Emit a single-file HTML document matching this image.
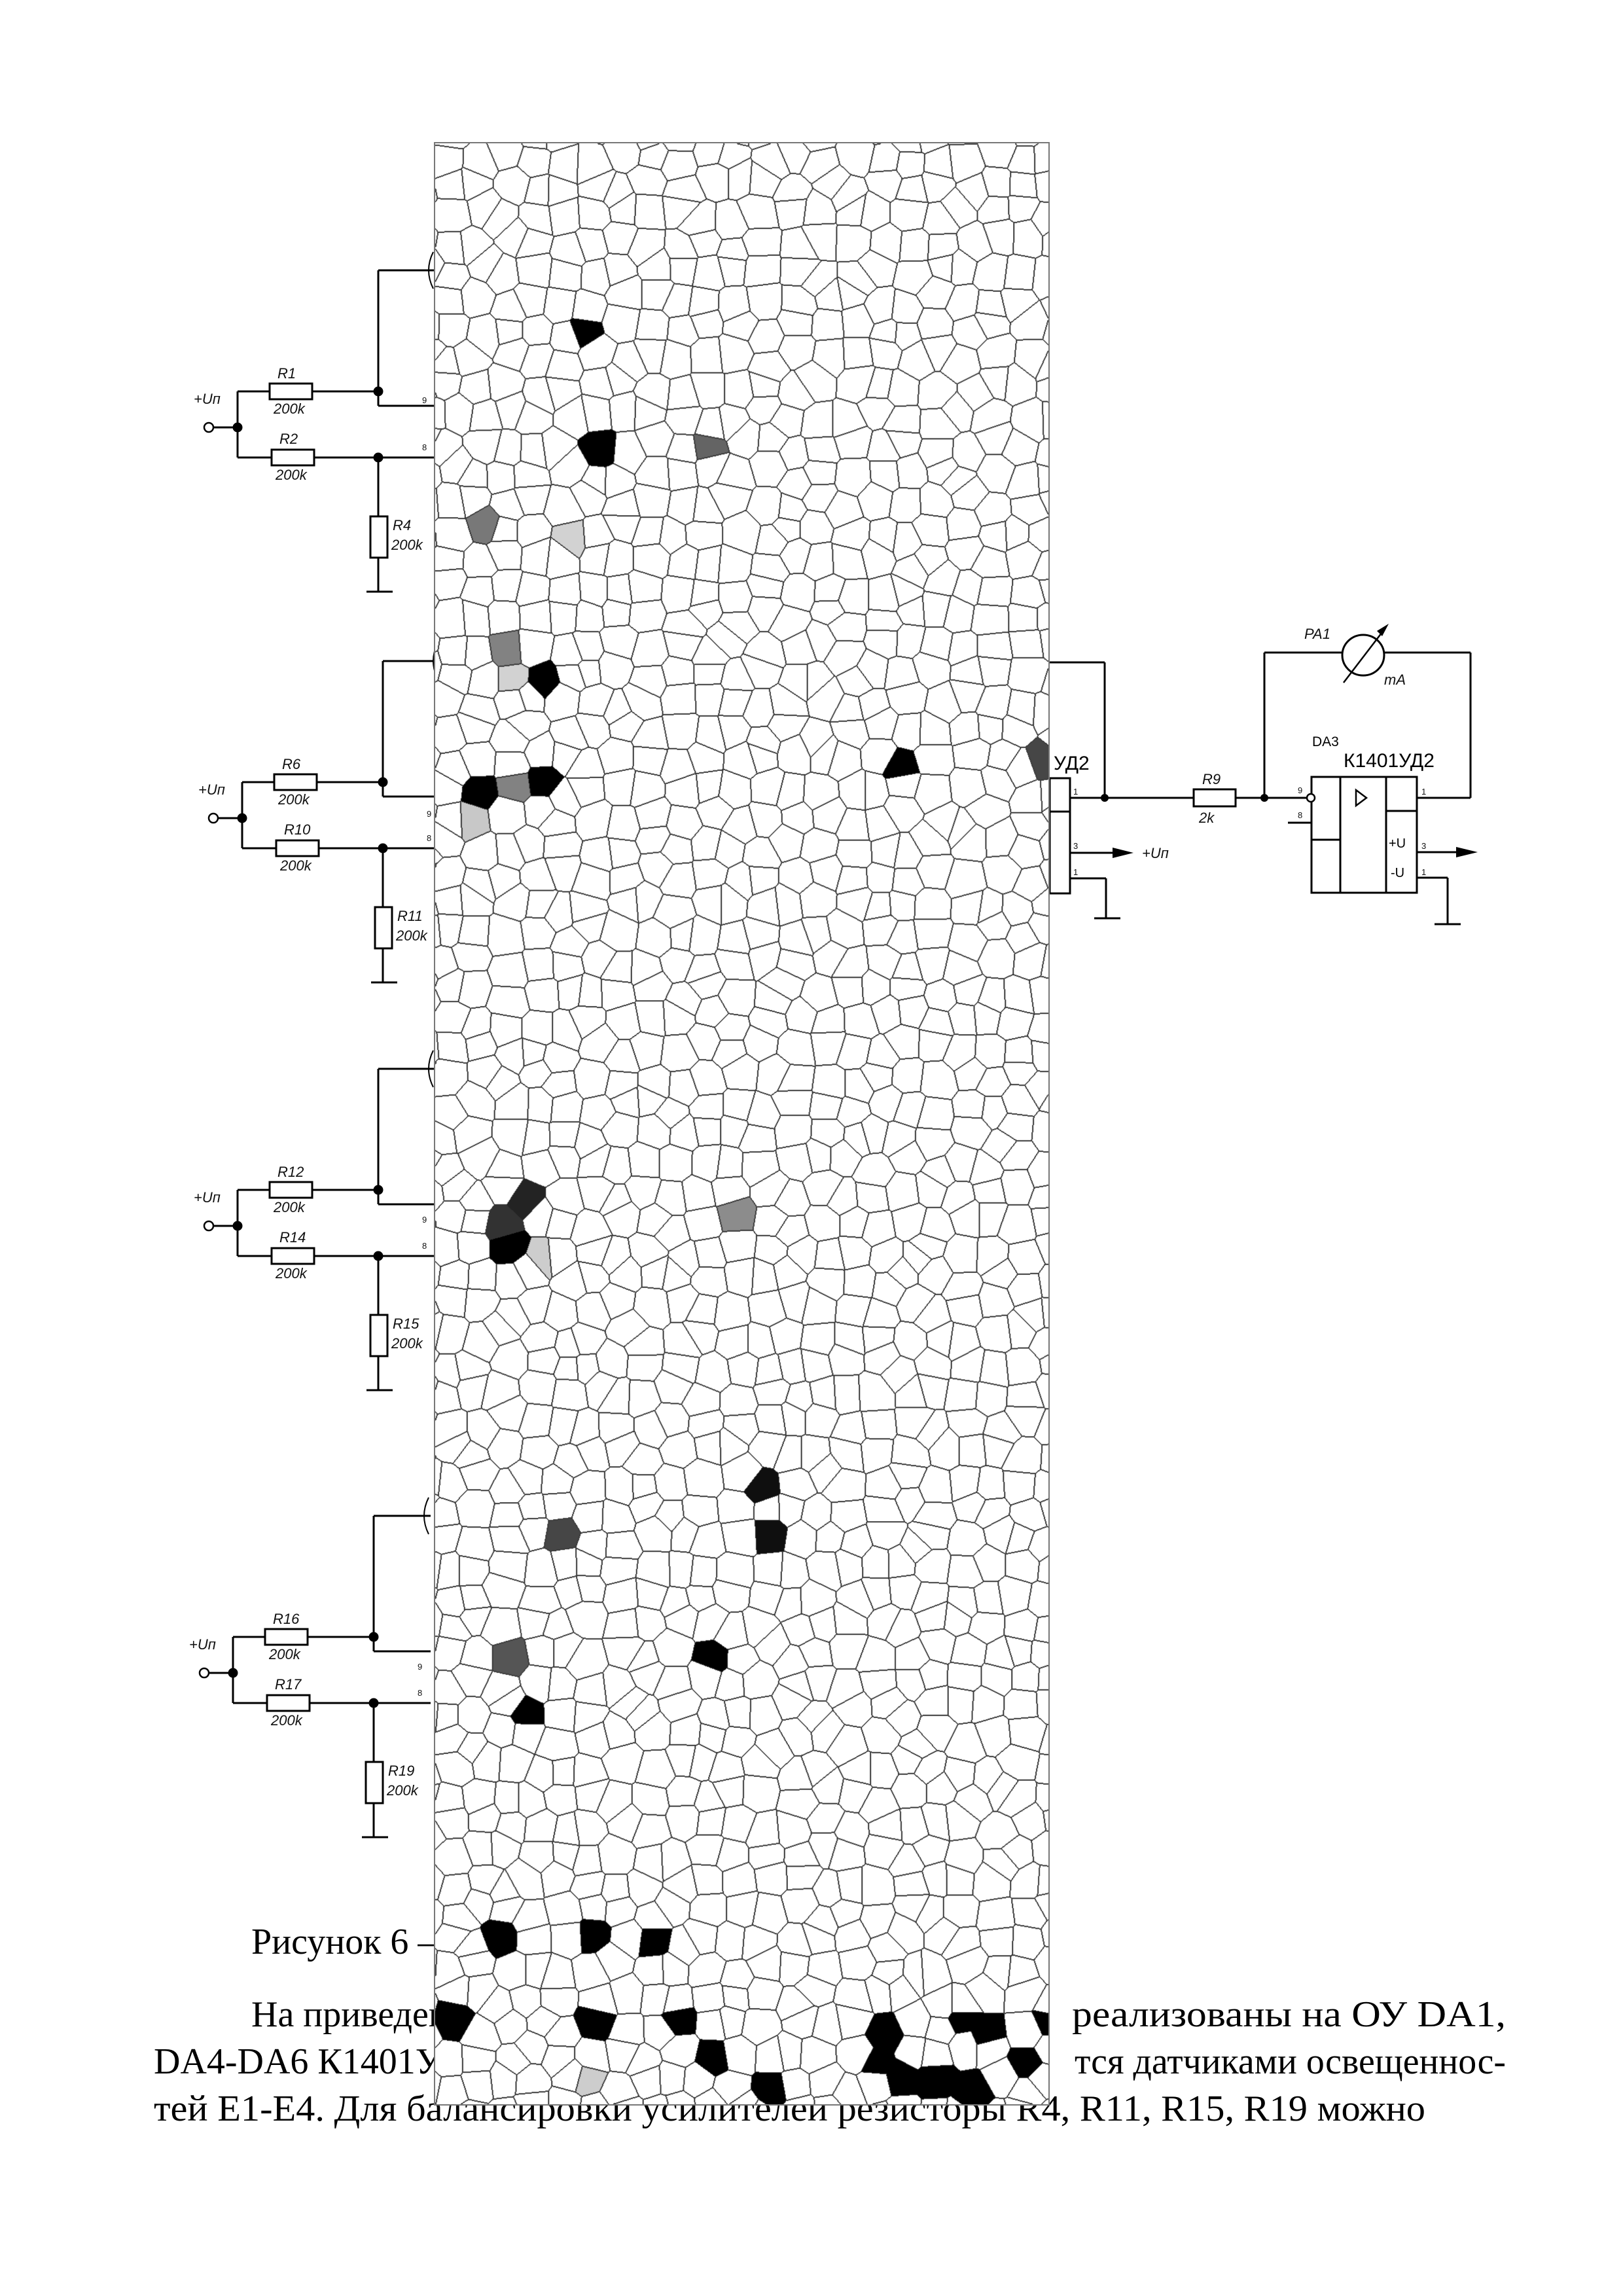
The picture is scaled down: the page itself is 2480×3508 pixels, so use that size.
<!DOCTYPE html>
<html><head><meta charset="utf-8"><style>
html,body{margin:0;padding:0;background:#fff}
#wrap{position:relative;width:2480px;height:3508px;overflow:hidden;background:#fff}
svg{position:absolute;left:0;top:0}
#vor{position:absolute;left:663px;top:217px;width:941px;height:3000px;background:#fff;box-sizing:border-box;border:2px solid #777;z-index:2}
.l{font-family:"Liberation Sans",sans-serif;font-style:italic;font-size:22px;fill:#111}
.p{font-family:"Liberation Sans",sans-serif;font-size:13px;fill:#111}
.t{font-family:"Liberation Serif","Noto Serif CJK SC",serif;font-size:56px;fill:#000}
</style></head><body><div id="wrap">
<svg width="2480" height="3508" viewBox="0 0 2480 3508">
<defs>
<g id="sec" stroke="#000" stroke-width="3" fill="none">
  <circle cx="319" cy="653" r="7" stroke-width="2.5"/>
  <line x1="326" y1="653" x2="363" y2="653"/>
  <line x1="363" y1="598" x2="363" y2="699"/>
  <line x1="363" y1="598" x2="412" y2="598"/>
  <rect x="412" y="586" width="65" height="24" fill="#fff"/>
  <line x1="477" y1="598" x2="578" y2="598"/>
  <line x1="363" y1="699" x2="415" y2="699"/>
  <rect x="415" y="687" width="65" height="24" fill="#fff"/>
  <line x1="480" y1="699" x2="665" y2="699"/>
  <line x1="578" y1="413" x2="578" y2="620"/>
  <line x1="578" y1="413" x2="665" y2="413"/>
  <line x1="578" y1="620" x2="665" y2="620"/>
  <path d="M662 385 Q648 413 662 441" stroke-width="2"/>
  <line x1="578" y1="699" x2="578" y2="789"/>
  <rect x="566" y="789" width="26" height="63" fill="#fff"/>
  <line x1="578" y1="852" x2="578" y2="904"/>
  <line x1="560" y1="904" x2="600" y2="904"/>
  <circle cx="363" cy="653" r="6" fill="#000"/>
  <circle cx="578" cy="598" r="6" fill="#000"/>
  <circle cx="578" cy="699" r="6" fill="#000"/>
</g>
</defs>
<use href="#sec"/>
<text class="l" x="296" y="617">+Uп</text>
<text class="l" x="424" y="578">R1</text><text class="l" x="418" y="632">200k</text>
<text class="l" x="427" y="678">R2</text><text class="l" x="421" y="733">200k</text>
<text class="l" x="600" y="810">R4</text><text class="l" x="598" y="840">200k</text>
<text class="p" x="645" y="616">9</text><text class="p" x="645" y="688">8</text>

<use href="#sec" transform="translate(7,597)"/>
<text class="l" x="303" y="1214">+Uп</text>
<text class="l" x="431" y="1175">R6</text><text class="l" x="425" y="1229">200k</text>
<text class="l" x="434" y="1275">R10</text><text class="l" x="428" y="1330">200k</text>
<text class="l" x="607" y="1407">R11</text><text class="l" x="605" y="1437">200k</text>
<text class="p" x="652" y="1248">9</text><text class="p" x="652" y="1285">8</text>

<use href="#sec" transform="translate(0,1220)"/>
<text class="l" x="296" y="1837">+Uп</text>
<text class="l" x="424" y="1798">R12</text><text class="l" x="418" y="1852">200k</text>
<text class="l" x="427" y="1898">R14</text><text class="l" x="421" y="1953">200k</text>
<text class="l" x="600" y="2030">R15</text><text class="l" x="598" y="2060">200k</text>
<text class="p" x="645" y="1868">9</text><text class="p" x="645" y="1908">8</text>

<use href="#sec" transform="translate(-7,1903)"/>
<text class="l" x="289" y="2520">+Uп</text>
<text class="l" x="417" y="2481">R16</text><text class="l" x="411" y="2535">200k</text>
<text class="l" x="420" y="2581">R17</text><text class="l" x="414" y="2636">200k</text>
<text class="l" x="593" y="2713">R19</text><text class="l" x="591" y="2743">200k</text>
<text class="p" x="638" y="2551">9</text><text class="p" x="638" y="2591">8</text>

<g stroke="#000" stroke-width="3" fill="none">
  <rect x="1604" y="1189" width="31" height="176" fill="#fff"/>
  <line x1="1604" y1="1240" x2="1635" y2="1240"/>
  <line x1="1604" y1="1012" x2="1688" y2="1012"/>
  <line x1="1688" y1="1012" x2="1688" y2="1219"/>
  <line x1="1635" y1="1219" x2="1824" y2="1219"/>
  <rect x="1824" y="1206" width="64" height="26" fill="#fff"/>
  <line x1="1888" y1="1219" x2="1997" y2="1219"/>
  <line x1="1635" y1="1303" x2="1705" y2="1303"/>
  <line x1="1635" y1="1342" x2="1690" y2="1342"/>
  <line x1="1690" y1="1342" x2="1690" y2="1403"/>
  <line x1="1672" y1="1403" x2="1712" y2="1403"/>
  <line x1="1932" y1="997" x2="1932" y2="1219"/>
  <line x1="1932" y1="997" x2="2051" y2="997"/>
  <ellipse cx="2083" cy="1001" rx="32" ry="31"/>
  <line x1="2115" y1="997" x2="2247" y2="997"/>
  <line x1="2247" y1="997" x2="2247" y2="1219"/>
  <line x1="2165" y1="1219" x2="2247" y2="1219"/>
  <line x1="2053" y1="1043" x2="2115" y2="962" stroke-width="2.5"/>
  <rect x="2004" y="1187" width="161" height="177" fill="#fff"/>
  <line x1="2048" y1="1187" x2="2048" y2="1364"/>
  <line x1="2118" y1="1187" x2="2118" y2="1364"/>
  <line x1="2004" y1="1283" x2="2048" y2="1283"/>
  <line x1="2118" y1="1239" x2="2165" y2="1239"/>
  <circle cx="2003" cy="1219" r="6" fill="#fff" stroke-width="2.5"/>
  <line x1="1968" y1="1257" x2="2004" y2="1257"/>
  <line x1="2165" y1="1302" x2="2230" y2="1302"/>
  <line x1="2165" y1="1341" x2="2212" y2="1341"/>
  <line x1="2212" y1="1341" x2="2212" y2="1412"/>
  <line x1="2192" y1="1412" x2="2232" y2="1412"/>
  <path d="M2072 1207 L2088 1219 L2072 1231 Z" stroke-width="2.5"/>
</g>
<path d="M2122 953 L2112 972 L2104 964 Z" fill="#000"/>
<path d="M1700 1295 L1732 1303 L1700 1311 Z" fill="#000"/>
<path d="M2225 1294 L2258 1302 L2225 1310 Z" fill="#000"/>
<circle cx="1688" cy="1219" r="6" fill="#000"/>
<circle cx="1932" cy="1219" r="6" fill="#000"/>
<text class="l" x="1745" y="1311">+Uп</text>
<text class="l" x="1837" y="1198">R9</text><text class="l" x="1832" y="1257">2k</text>
<text class="l" x="1993" y="976" font-size="24">PA1</text>
<text class="l" x="2115" y="1046">mA</text>
<text style="font-family:'Liberation Sans',sans-serif;font-size:21px" x="2005" y="1140">DA3</text>
<text style="font-family:'Liberation Sans','Noto Sans CJK SC',sans-serif;font-size:30px" x="2053" y="1172">К1401УД2</text>
<text style="font-family:'Liberation Sans','Noto Sans CJK SC',sans-serif;font-size:30px" x="1610" y="1176">УД2</text>
<text class="p" x="1640" y="1214">1</text><text class="p" x="1640" y="1297">3</text><text class="p" x="1640" y="1337">1</text>
<text class="p" x="1983" y="1212">9</text><text class="p" x="1983" y="1250">8</text>
<text class="p" x="2172" y="1214">1</text><text class="p" x="2172" y="1297">3</text><text class="p" x="2172" y="1337">1</text>
<text style="font-family:'Liberation Sans',sans-serif;font-size:20px" x="2122" y="1295">+U</text>
<text style="font-family:'Liberation Sans',sans-serif;font-size:20px" x="2125" y="1340">-U</text>

<text class="t" x="384" y="2985">Рисунок 6 – схема</text>
<text class="t" x="384" y="3096">На приведенной схеме</text>
<text class="t" x="1638" y="3096" textLength="663" lengthAdjust="spacingAndGlyphs">реализованы на ОУ DA1,</text>
<text class="t" x="235" y="3168">DA4-DA6 К1401УД2 являются</text>
<text class="t" x="1642" y="3168" textLength="659" lengthAdjust="spacingAndGlyphs">тся датчиками освещеннос-</text>
<text class="t" x="235" y="3240" textLength="1943" lengthAdjust="spacingAndGlyphs">тей Е1-Е4. Для балансировки усилителей резисторы R4, R11, R15, R19 можно</text>
</svg>
<canvas id="vor" width="941" height="3000"></canvas>
</div>
<script>
(function(){
var c=document.getElementById('vor'),ctx=c.getContext('2d');
var W=941,H=3000,S=44;
var s=12345;function rnd(){s=(s*1664525+1013904223)>>>0;return s/4294967296;}
var cols=Math.ceil(W/S)+2,rows=Math.ceil(H/S)+2;
var sx=new Float32Array(cols*rows),sy=new Float32Array(cols*rows);
for(var j=0;j<rows;j++)for(var i=0;i<cols;i++){var k=j*cols+i;sx[k]=(i-1)*S+S*(0.15+0.7*rnd());sy[k]=(j-1)*S+S*(0.15+0.7*rnd());}
function near(x,y){var gi=Math.floor(x/S)+1,gj=Math.floor(y/S)+1,b=-1,bd=1e18;
for(var dj=-1;dj<=1;dj++){var jj=gj+dj;if(jj<0||jj>=rows)continue;
for(var di=-1;di<=1;di++){var ii=gi+di;if(ii<0||ii>=cols)continue;var k=jj*cols+ii;var dx=sx[k]-x,dy=sy[k]-y,d=dx*dx+dy*dy;if(d<bd){bd=d;b=k;}}}return b;}
var lab=new Int32Array(W*H);
for(var y=0;y<H;y++)for(var x=0;x<W;x++)lab[y*W+x]=near(x+0.5,y+0.5);
var spec={};
var pts=[[397,237,0],[405,297,0],[490,300,100],[325,360,120],[396,357,210],[342,440,130],[352,455,210],[370,460,0],[330,533,0],[350,533,130],[322,550,200],[370,538,0],[618,515,0],[708,515,70],[338,828,50],[352,828,35],[350,848,0],[370,848,205],[493,828,140],[530,1010,15],[530,1045,15],[388,1043,70],[348,1125,85],[492,1142,0],[358,1178,0],[348,1325,0],[407,1320,0],[453,1325,0],[312,1382,0],[400,1382,0],[460,1385,0],[490,1415,0],[405,1420,205],[530,1440,0],[607,1382,0],[655,1380,0],[685,1382,0],[600,1415,0],[620,1418,0],[645,1418,0],[670,1418,0],[700,1415,0],[712,1380,0]];
for(var p=0;p<pts.length;p++){var X=pts[p][0]*2.234-663,Y=pts[p][1]*2.234-217;if(X<0)X=2;if(X>=W)X=W-2;if(Y>=H)Y=H-2;spec[near(X,Y)]=pts[p][2];}
var img=ctx.createImageData(W,H),d=img.data;
for(var y=0;y<H;y++)for(var x=0;x<W;x++){var i=y*W+x,l=lab[i],v=255;
if(spec.hasOwnProperty(l))v=spec[l];
if((x+1<W&&lab[i+1]!==l)||(y+1<H&&lab[i+W]!==l)||(x>0&&lab[i-1]!==l)||(y>0&&lab[i-W]!==l))v=Math.min(v,60);
var o=i*4;d[o]=d[o+1]=d[o+2]=v;d[o+3]=255;}
ctx.putImageData(img,0,0);
})();
</script>
</body></html>
